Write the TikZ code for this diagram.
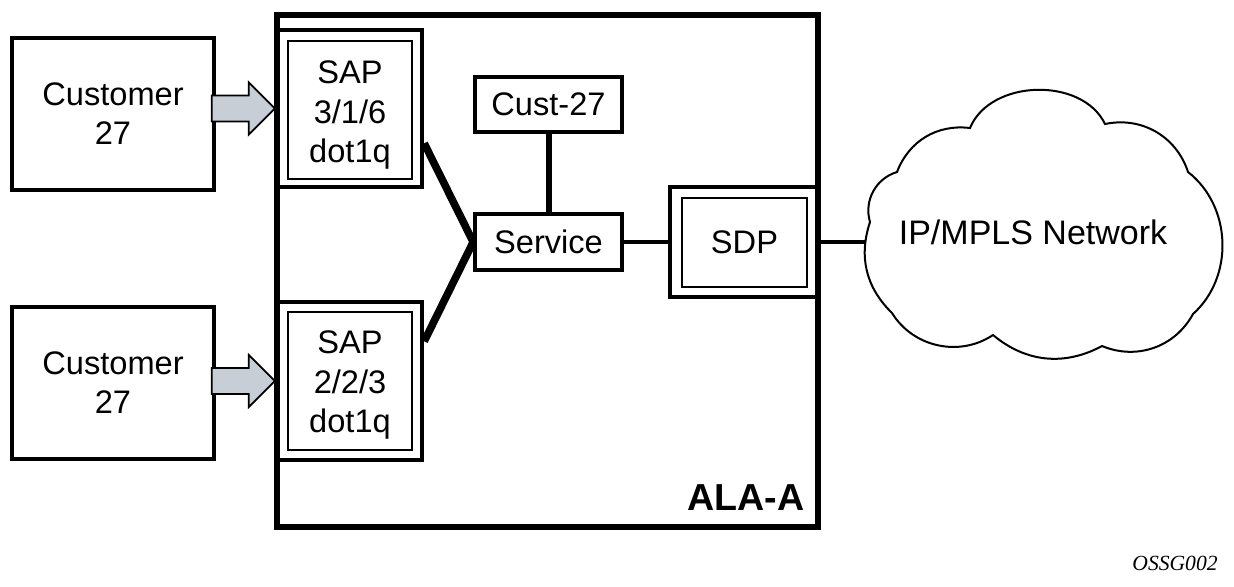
\documentclass[tikz,border=0pt]{standalone}
\usepackage{fontspec}
\setmainfont{Liberation Sans}
\newfontfamily\serifit{Liberation Serif}
\usetikzlibrary{fit}
\definecolor{arrowgray}{RGB}{200,206,213}
\tikzset{
  lbl/.style={font=\fontsize{16.3}{19.6}\selectfont, align=center, inner sep=0pt},
  custbox/.style={draw, line width=2pt, inner sep=0pt},
  outerbox/.style={draw, line width=2.2pt, inner sep=0pt},
  innerbox/.style={draw, line width=1pt, inner sep=0pt},
  smallbox/.style={draw, line width=1.8pt, inner sep=0pt},
  thickline/.style={line width=3.8pt},
  midline/.style={line width=3pt},
  thinline/.style={line width=1.6pt},
  blockarrow/.style={draw, line width=0.9pt, fill=arrowgray, line join=miter},
}
\begin{document}
\begin{tikzpicture}[x=0.5pt, y=-0.5pt]
\useasboundingbox (0,0) rectangle (1234,586);

% main box
\node[draw, line width=2.7pt, inner sep=0pt, fit={(277,15)(818,527)}] (ala) {};
\node[font=\fontsize{18.8}{22}\selectfont\bfseries] (alalbl) at (746,498) {ALA-A};

% customers
\node[custbox, fit={(12,38)(214,190)}] (cust1) {};
\node[lbl] (cust1t) at (cust1.center) {Customer\\27};
\node[custbox, fit={(12,307)(214,459)}] (cust2) {};
\node[lbl] (cust2t) at (cust2.center) {Customer\\27};

% SAPs
\node[outerbox, fit={(277,30)(422,187)}] (sap1o) {};
\node[innerbox, fit={(288,41)(412,179)}] (sap1i) {};
\node[lbl] (sap1t) at ([yshift=-2.5pt]sap1i.center) {SAP\\3/1/6\\dot1q};
\node[outerbox, fit={(277,302)(422,460)}] (sap2o) {};
\node[innerbox, fit={(288,312)(412,450)}] (sap2i) {};
\node[lbl] (sap2t) at ([yshift=-2pt]sap2i.center) {SAP\\2/2/3\\dot1q};

% Cust-27 and Service
\node[smallbox, fit={(475,77)(622,132)}] (c27) {};
\node[lbl] (c27t) at (c27.center) {Cust-27};
\node[smallbox, fit={(475,214)(622,270)}] (serv) {};
\node[lbl] (servt) at (serv.center) {Service};

% SDP
\node[outerbox, fit={(670,187)(818,297)}] (sdpo) {};
\node[innerbox, fit={(682,198)(807,287)}] (sdpi) {};
\node[lbl] (sdpt) at (sdpi.center) {SDP};

% block arrows
\draw[blockarrow] (sap1o.west) -- ++(-26,-26) -- ++(0,13) -- ++(-37,0) -- ++(0,26) -- ++(37,0) -- ++(0,13) -- cycle;
\draw[blockarrow] (sap2o.west) -- ++(-26,-26) -- ++(0,13) -- ++(-37,0) -- ++(0,26) -- ++(37,0) -- ++(0,13) -- cycle;

% connectors
\draw[thickline] (sap1o.-25) -- (serv.west);
\draw[thickline] (sap2o.28) -- (serv.west);
\draw[midline] (c27.south) -- (serv.north);
\draw[thinline] (serv.east) -- (sdpo.west);

% cloud
\coordinate (cA) at (870,222);
\coordinate (cB) at (897,172);
\coordinate (cC) at (970,128);
\coordinate (cD) at (1105,124);
\coordinate (cE) at (1188,172);
\coordinate (cG) at (1193,314);
\coordinate (cH) at (1102,346);
\coordinate (cI) at (993,335);
\coordinate (cJ) at (892,313);
\draw[line width=1pt, line join=miter] (cA) to[bend left=45] (cB) to[bend left=38] (cC)
  to[bend left=66] (cD) to[bend left=42] (cE) to[bend left=50] (cG)
  to[bend left=42] (cH) to[bend left=34] (cI) to[bend left=46] (cJ)
  to[bend left=32] (cA) -- cycle;
\coordinate (cloudL) at (866,242);
\node[font=\fontsize{17}{20}\selectfont] (net) at (1033,232) {IP/MPLS Network};
\draw[thinline] (sdpo.east) -- (cloudL);

% figure id
\node[font=\serifit\itshape\fontsize{10.8}{13}\selectfont] (fid) at (1175,563) {OSSG002};
\end{tikzpicture}
\end{document}
